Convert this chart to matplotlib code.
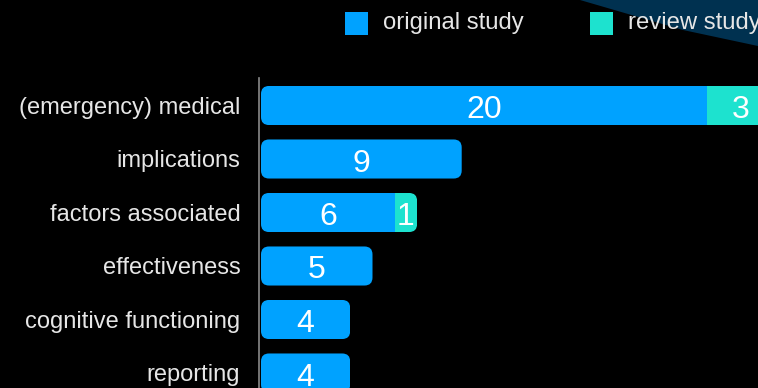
import numpy as np
import matplotlib
matplotlib.use("Agg")
import matplotlib.pyplot as plt
from matplotlib.patches import FancyBboxPatch, Rectangle, Polygon

plt.rcParams['font.family'] = ['Liberation Sans', 'DejaVu Sans']

categories = ["(emergency) medical", "implications", "factors associated",
              "effectiveness", "cognitive functioning", "reporting"]
original = [20, 9, 6, 5, 4, 4]
review = [3, 0, 1, 0, 0, 0]
series_names = ["original study", "review study"]

BLUE = "#00a2ff"
TEAL = "#1de2cf"
BG = "#000000"
TXT = "#e6e6e6"

W, H = 758, 388
fig = plt.figure(figsize=(W / 100, H / 100), dpi=100, facecolor=BG)

# decorative band in the top right corner
band = Polygon([(580 / W, 1), (1, 1), (1, 1 - 46 / H), (683 / W, 1 - 30 / H)],
               closed=True, transform=fig.transFigure, facecolor="#003150",
               edgecolor="none", zorder=0)
fig.add_artist(band)

ax = fig.add_axes([259 / W, 0, (W - 259) / W, (H - 78) / H])
ax.set_facecolor("none")

px_per_x = 22.3
px_per_y = 53.5
x0 = -2 / px_per_x
ax.set_xlim(x0, x0 + (W - 259) / px_per_x)
ax.set_ylim((H - 105.5) / px_per_y, -(105.5 - 78) / px_per_y)

y = np.arange(len(categories))
height = 0.73
orig = np.array(original)
rev = np.array(review)

b1 = ax.barh(y, orig, height=height, color=BLUE, linewidth=0)
b2 = ax.barh(y, rev, left=orig, height=height, color=TEAL, linewidth=0)

# rounded outline of each full bar used as a clip path
radius = 8 / px_per_x
aspect = px_per_x / px_per_y
base = 12.5 / px_per_y  # baseline offset so digits sit centred on the bar
for i in range(len(categories)):
    total = orig[i] + rev[i]
    clip = FancyBboxPatch((0, y[i] - height / 2), total, height,
                          boxstyle=f"round,pad=0,rounding_size={radius}",
                          mutation_aspect=aspect, transform=ax.transData,
                          facecolor="none", edgecolor="none")
    ax.add_patch(clip)
    b1[i].set_clip_path(clip)
    b2[i].set_clip_path(clip)
    ax.text(orig[i] / 2, y[i] + base, str(orig[i]), ha="center", va="baseline",
            color="white", fontsize=23)
    if rev[i] > 0:
        ax.text(orig[i] + rev[i] / 2, y[i] + base, str(rev[i]), ha="center",
                va="baseline", color="white", fontsize=23)

ax.set_yticks(y)
ax.set_yticklabels(categories, color=TXT, fontsize=17)
ax.tick_params(axis="y", length=0, pad=13.5)
ax.set_xticks([])
for s in ["top", "right", "bottom"]:
    ax.spines[s].set_visible(False)
ax.spines["left"].set_color("#8a8a8a")
ax.spines["left"].set_linewidth(1.2)

# legend
for (lx, tx), name, col in zip([(345, 383), (590, 628)], series_names, [BLUE, TEAL]):
    fig.add_artist(Rectangle((lx / W, 1 - 35 / H), 23 / W, 23 / H,
                             transform=fig.transFigure, facecolor=col,
                             edgecolor="none"))
    fig.text(tx / W, 1 - 23.5 / H, name, color=TXT, fontsize=17.2, va="center")

fig.savefig("out.png", dpi=100, facecolor=BG)
